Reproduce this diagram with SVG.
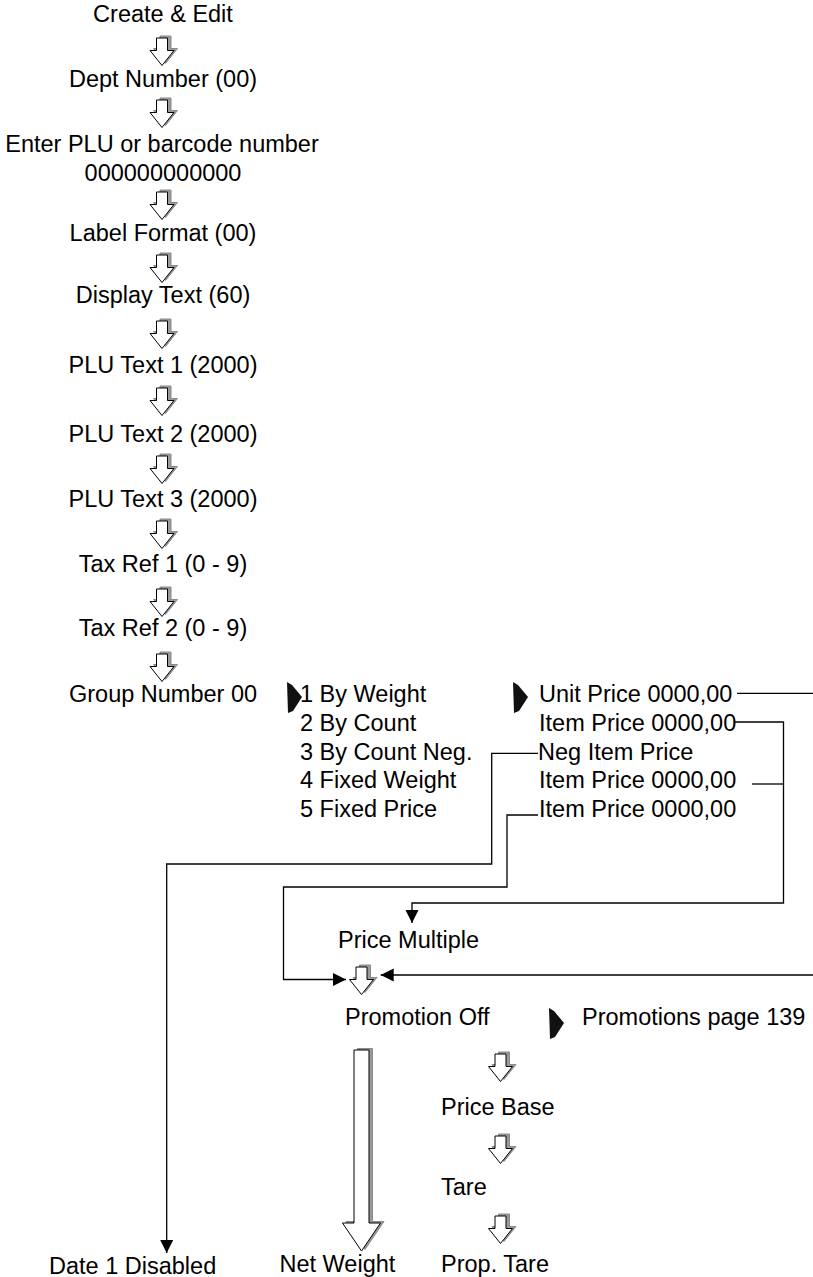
<svg xmlns="http://www.w3.org/2000/svg" xmlns:xlink="http://www.w3.org/1999/xlink" width="813" height="1277" viewBox="0 0 813 1277">
<style>
text{font-family:"Liberation Sans",Arial,sans-serif;font-size:23.5px;fill:#000}
.c{text-anchor:middle}
.ln{fill:none;stroke:#000;stroke-width:1.3}
.sh{fill:#9a9a9a;stroke:#8a8a8a;stroke-width:1}
.ar{fill:#fff;stroke:#000;stroke-width:1}
.bk{fill:#111;stroke:none}
</style>
<defs>
<marker id="m" markerUnits="userSpaceOnUse" markerWidth="14" markerHeight="14" refX="13" refY="7" orient="auto">
<path d="M0,0.5 L13,7 L0,13.5 Z" fill="#000"/>
</marker>
<g id="sa">
<path class="sh" transform="translate(3.5,-2)" d="M-5.5,0 H5.5 V12.5 H12 L0,27.5 L-12,12.5 H-5.5 Z"/>
<path class="ar" d="M-5.5,0 H5.5 V12.5 H12 L0,27.5 L-12,12.5 H-5.5 Z"/>
</g>
<polygon id="pa" points="0,0 5,3 15,15 6,29 1,31"/>
</defs>

<g id="create"><text class="c" x="163" y="22">Create &amp; Edit</text></g>
<use href="#sa" x="162" y="38"/>
<g id="dept"><text class="c" x="163" y="87">Dept Number (00)</text></g>
<use href="#sa" x="162" y="100"/>
<g id="plu"><text class="c" x="162" y="152">Enter PLU or barcode number</text><text class="c" x="163" y="181">000000000000</text></g>
<use href="#sa" x="162" y="192"/>
<g id="label"><text class="c" x="163" y="241">Label Format (00)</text></g>
<use href="#sa" x="162" y="255"/>
<g id="display"><text class="c" x="163" y="303">Display Text (60)</text></g>
<use href="#sa" x="162" y="321"/>
<g id="plut1"><text class="c" x="163" y="373">PLU Text 1 (2000)</text></g>
<use href="#sa" x="162" y="388"/>
<g id="plut2"><text class="c" x="163" y="442">PLU Text 2 (2000)</text></g>
<use href="#sa" x="162" y="456"/>
<g id="plut3"><text class="c" x="163" y="507">PLU Text 3 (2000)</text></g>
<use href="#sa" x="162" y="521"/>
<g id="tax1"><text class="c" x="163" y="572">Tax Ref 1 (0 - 9)</text></g>
<use href="#sa" x="162" y="589"/>
<g id="tax2"><text class="c" x="163" y="636">Tax Ref 2 (0 - 9)</text></g>
<use href="#sa" x="162" y="654"/>
<g id="group"><text class="c" x="163" y="702">Group Number 00</text></g>

<g id="types">
<use href="#pa" class="bk" x="287" y="682"/>
<text x="300" y="702">1 By Weight</text>
<text x="300" y="731">2 By Count</text>
<text x="300" y="760">3 By Count Neg.</text>
<text x="300" y="788">4 Fixed Weight</text>
<text x="300" y="817">5 Fixed Price</text>
</g>
<g id="prices">
<use href="#pa" class="bk" x="513" y="682"/>
<text x="539" y="702">Unit Price 0000,00</text>
<text x="539" y="731">Item Price 0000,00</text>
<text x="538" y="760">Neg Item Price</text>
<text x="539" y="788">Item Price 0000,00</text>
<text x="539" y="817">Item Price 0000,00</text>
</g>

<g id="pricemultiple"><text x="338" y="948">Price Multiple</text></g>
<use href="#sa" x="361.5" y="967"/>
<g id="promotion"><text x="345" y="1025">Promotion Off</text></g>
<g id="promopage">
<use href="#pa" class="bk" x="549" y="1008"/>
<text x="582" y="1025">Promotions page 139</text>
</g>
<use href="#sa" x="500.5" y="1054"/>
<g id="pricebase"><text x="441" y="1115">Price Base</text></g>
<use href="#sa" x="500.5" y="1136"/>
<g id="tare"><text x="441" y="1195">Tare</text></g>
<use href="#sa" x="500.5" y="1216"/>
<g id="proptare"><text x="441" y="1272">Prop. Tare</text></g>

<g id="bigarrow">
<path class="sh" transform="translate(3.5,-1.5)" d="M354,1050 H369 V1223 H380.5 L361.5,1251 L342.5,1223 H354 Z"/>
<path class="ar" d="M354,1050 H369 V1223 H380.5 L361.5,1251 L342.5,1223 H354 Z"/>
</g>
<g id="netweight"><text x="279.5" y="1272">Net Weight</text></g>
<g id="date1"><text x="49" y="1274">Date 1 Disabled</text></g>

<g id="connectors">
<path class="ln" d="M737,693.3 H813"/>
<path class="ln" d="M735,722 H783.5 V903 H412 V923" marker-end="url(#m)"/>
<path class="ln" d="M752,784 H783.5"/>
<path class="ln" d="M538,753.3 H491.7 V864 H166.7 V1253" marker-end="url(#m)"/>
<path class="ln" d="M538,815 H507 V887 H283.5 V979.5 H346" marker-end="url(#m)"/>
<path class="ln" d="M813,975 H380.7" marker-end="url(#m)"/>
</g>
</svg>
